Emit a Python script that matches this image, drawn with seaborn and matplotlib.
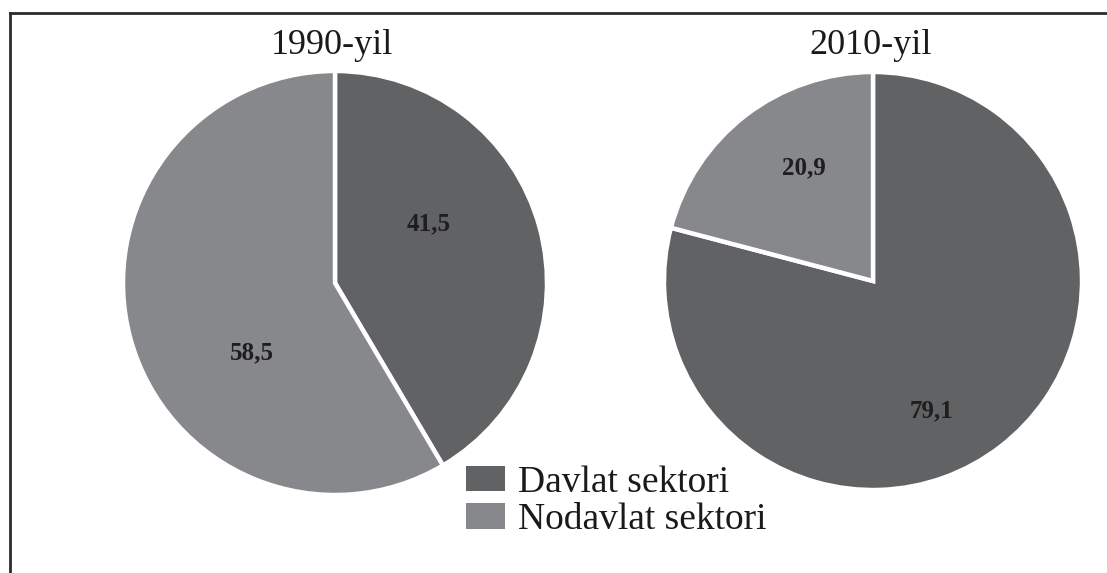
import matplotlib
matplotlib.use("Agg")
import matplotlib.pyplot as plt
import seaborn as sns

# ---- data ----
years = ["1990-yil", "2010-yil"]
sectors = ["Davlat sektori", "Nodavlat sektori"]
share_1990 = [41.5, 58.5]
share_2010 = [79.1, 20.9]
value_labels_1990 = ["41,5", "58,5"]
value_labels_2010 = ["79,1", "20,9"]

sns.set_theme(style="white")
plt.rcParams["font.family"] = ["Liberation Serif", "DejaVu Serif"]

colors = sns.color_palette(["#616264", "#87888c"])

W, H = 1107, 573
fig = plt.figure(figsize=(W / 100, H / 100), dpi=100)
fig.patch.set_facecolor("white")

# axes area: from x=10 px to right edge, from bottom to y=13 px (top line)
left_px, top_px = 10, 13
ax = fig.add_axes([left_px / W, 0, (W - left_px) / W, (H - top_px) / H])

def Y(y_img):
    return H - y_img

pies = [
    dict(values=share_1990, labels=value_labels_1990, title=years[0],
         center=(335, Y(283)), radius=212, title_xy=(332, Y(45)),
         label_offsets=[(0.44, 0.28), (-0.39, -0.33)]),
    dict(values=share_2010, labels=value_labels_2010, title=years[1],
         center=(873, Y(281)), radius=209, title_xy=(871, Y(45)),
         label_offsets=[(0.28, -0.62), (-0.33, 0.54)]),
]

wedges_for_legend = None
for p in pies:
    wedges, _ = ax.pie(p["values"], colors=colors, startangle=90,
                       counterclock=False, center=p["center"],
                       radius=p["radius"], frame=True,
                       wedgeprops=dict(edgecolor="white", linewidth=3.2))
    if wedges_for_legend is None:
        wedges_for_legend = wedges
    cx, cy = p["center"]
    r = p["radius"]
    for lab, (ox, oy) in zip(p["labels"], p["label_offsets"]):
        ax.text(cx + ox * r, cy + oy * r, lab, ha="center", va="center",
                fontsize=18, fontweight="bold", color="#1e1e1e")
    ax.text(p["title_xy"][0], p["title_xy"][1], p["title"], ha="center",
            va="center", fontsize=26, color="#1a1a1a")

ax.set_xlim(left_px, W)
ax.set_ylim(0, H - top_px)
ax.set_aspect("equal")
ax.set_xticks([])
ax.set_yticks([])

for side in ["right", "bottom"]:
    ax.spines[side].set_visible(False)
for side in ["left", "top"]:
    ax.spines[side].set_visible(True)
    ax.spines[side].set_color("#2b2b2b")
    ax.spines[side].set_linewidth(2.0)

leg = ax.legend(wedges_for_legend, sectors, loc="upper left",
                bbox_to_anchor=(466, Y(465)), bbox_transform=ax.transData,
                frameon=False, fontsize=27, handlelength=1.05,
                handleheight=0.67, handletextpad=0.35, labelspacing=0.08,
                borderpad=0, borderaxespad=0)
for h in leg.legend_handles:
    h.set_edgecolor("none")
for t in leg.get_texts():
    t.set_color("#1a1a1a")

fig.savefig("out.png", dpi=100, facecolor="white")
